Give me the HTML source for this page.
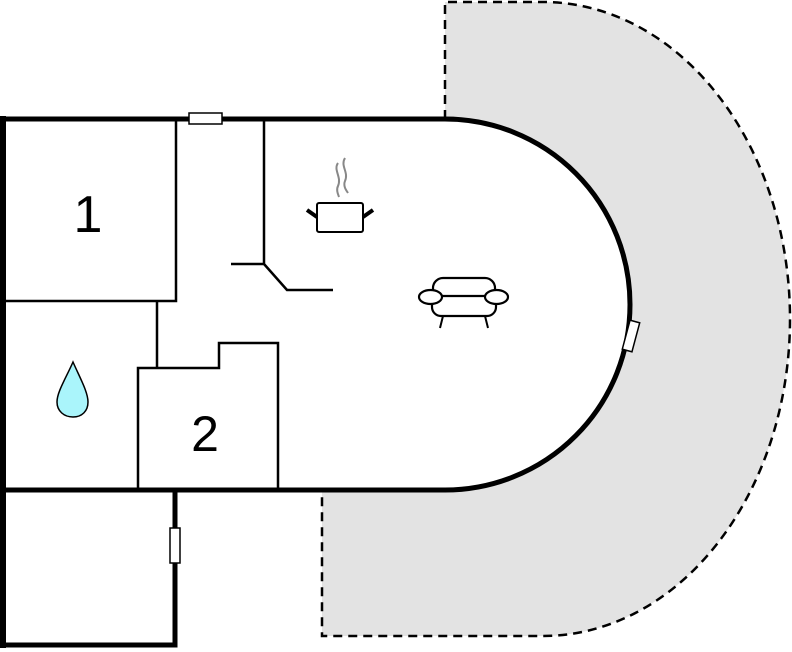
<!DOCTYPE html>
<html><head><meta charset="utf-8"><style>body{margin:0;background:#fff}svg{display:block}</style></head>
<body>
<svg width="792" height="652" viewBox="0 0 792 652" xmlns="http://www.w3.org/2000/svg">
<path d="M445 2 L543 2 A247 317 0 0 1 543 636 L322 636 L322 490 L445 490 A185 185.5 0 0 0 630 304.5 A185 185.5 0 0 0 445 119 Z" fill="#e3e3e3" stroke="none"/>
<path d="M445 119 L445 2 L543 2 A247 317 0 0 1 543 636 L322 636 L322 492" fill="none" stroke="#000" stroke-width="2.5" stroke-dasharray="9,6"/>
<path d="M3 119 L445 119 A185 185.5 0 0 1 630 304.5 A185 185.5 0 0 1 445 490 L3 490" fill="#fff" stroke="#000" stroke-width="5"/>
<path d="M3 116 L3 648" stroke="#000" stroke-width="6"/>
<path d="M3 490 L175 490 L175 645 L3 645" fill="none" stroke="#000" stroke-width="5"/>
<rect x="170" y="528" width="10" height="35" fill="#fff" stroke="#000" stroke-width="1.5"/>
<rect x="189" y="113" width="33" height="11" fill="#fff" stroke="#000" stroke-width="1.5"/>
<rect x="626" y="321" width="10" height="30" fill="#fff" stroke="#000" stroke-width="1.5" transform="rotate(15 631 336)"/>
<g fill="none" stroke="#000" stroke-width="2.5">
<path d="M3 301 L176 301 L176 119"/>
<path d="M157 301 L157 368"/>
<path d="M138 490 L138 368 L219 368 L219 343 L278 343 L278 490"/>
<path d="M264 119 L264 264 L231 264 M264 264 L287 290 L333 290"/>
</g>
<text x="88" y="232" font-family="Liberation Sans, sans-serif" font-size="52" text-anchor="middle">1</text>
<text x="205" y="451" font-family="Liberation Sans, sans-serif" font-size="50" text-anchor="middle">2</text>
<path d="M73 362 C66 378 57 392 57 402 C57 411 64 417 73 417 C82 417 88 411 88 402 C88 392 80 378 73 362 Z" fill="#aaf5fb" stroke="#000" stroke-width="1.5"/>
<g fill="none" stroke="#888" stroke-width="2">
<path d="M338 163 C333 170 342 177 338 186 C336 190 338 194 339 197"/>
<path d="M345 158 C340 166 349 172 345 181 C343 186 346 190 348 193"/>
</g>
<g fill="none" stroke="#000">
<rect x="317" y="203" width="46" height="29" rx="2" stroke-width="2"/>
<path d="M307 210 L317 217 M363 217 L373 210" stroke-width="4"/>
<rect x="433" y="278" width="62" height="24" rx="10" stroke-width="2.2"/>
<rect x="432" y="296" width="64" height="20" rx="9" fill="#fff" stroke-width="2.2"/>
<ellipse cx="430.5" cy="297" rx="11.5" ry="7" fill="#fff" stroke-width="2.2"/>
<ellipse cx="496.5" cy="297" rx="11.5" ry="7" fill="#fff" stroke-width="2.2"/>
<path d="M443 316 L440 328 M485 316 L488 328" stroke-width="2"/>
</g>
</svg>
</body></html>
